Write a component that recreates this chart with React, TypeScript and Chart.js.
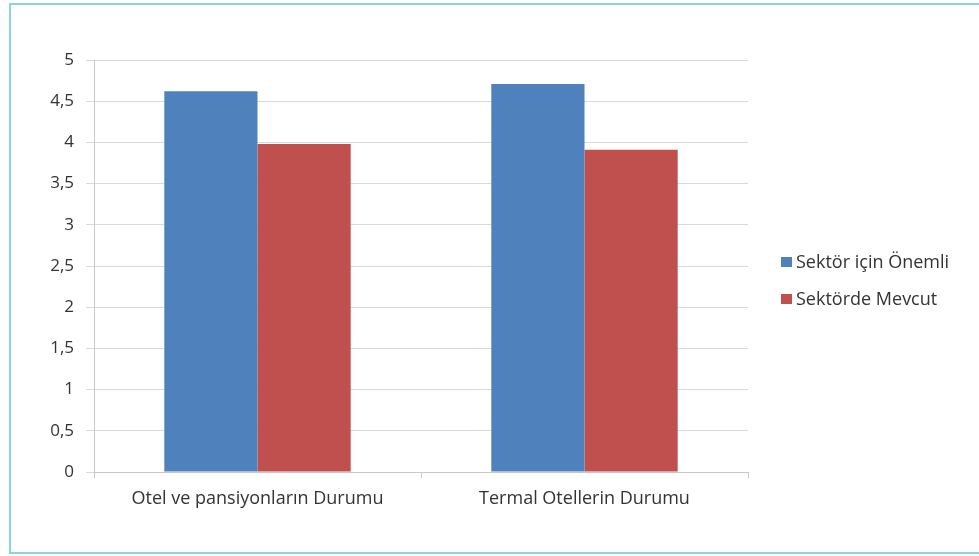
import React, { useEffect, useRef } from "react";
import { Chart, registerables } from "chart.js";

Chart.register(...registerables);

const categories = ["Otel ve pansiyonların Durumu", "Termal Otellerin Durumu"];
const seriesNames = ["Sektör için Önemli", "Sektörde Mevcut"];
const onemliValues = [4.62, 4.71];
const mevcutValues = [3.98, 3.91];
const yTickLabels = ["0", "0,5", "1", "1,5", "2", "2,5", "3", "3,5", "4", "4,5", "5"];
const colors = ["#4f81bd", "#c0504d"];

const FONT = "'Open Sans', sans-serif";
const TEXT = "#333333";

const legendPlugin = {
  id: "sideLegend",
  afterDraw(chart: any) {
    const ctx = chart.ctx;
    const x0 = 781;
    const ys = [262, 299];
    ctx.save();
    ctx.font = `18px ${FONT}`;
    ctx.textBaseline = "middle";
    ctx.textAlign = "left";
    chart.data.datasets.forEach((ds: any, i: number) => {
      const y = ys[i];
      ctx.fillStyle = ds.backgroundColor;
      ctx.fillRect(x0, y - 5, 11, 10);
      ctx.fillStyle = TEXT;
      ctx.fillText(ds.label, x0 + 15, y + 0.5);
    });
    ctx.restore();
  },
};

export default function App() {
  const ref = useRef<HTMLCanvasElement>(null);
  useEffect(() => {
    if (!ref.current) return;
    const chart = new Chart(ref.current, {
      type: "bar",
      data: {
        labels: categories,
        datasets: [
          { label: seriesNames[0], data: onemliValues, backgroundColor: colors[0] },
          { label: seriesNames[1], data: mevcutValues, backgroundColor: colors[1] },
        ],
      },
      plugins: [legendPlugin],
      options: {
        animation: false,
        responsive: false,
        maintainAspectRatio: false,
        layout: { padding: { left: 0, right: 231, top: 60, bottom: 44 } },
        plugins: { legend: { display: false }, tooltip: { enabled: false } },
        datasets: { bar: { barPercentage: 1, categoryPercentage: 0.57 } },
        scales: {
          x: {
            afterFit: (s: any) => { s.height = 40; },
            grid: { display: true, offset: true, drawOnChartArea: false, drawTicks: true, tickLength: 6, color: "#c8c8c8" },
            border: { color: "#c8c8c8" },
            ticks: { color: TEXT, font: { family: FONT, size: 18 }, padding: 10 },
          },
          y: {
            min: 0,
            max: 5,
            afterFit: (s: any) => { s.width = 94; },
            grid: { color: "#d9d9d9", tickLength: 8, drawTicks: true },
            border: { color: "#c8c8c8" },
            ticks: {
              stepSize: 0.5,
              color: TEXT,
              font: { family: FONT, size: 17 },
              padding: 12,
              callback: (v: any) => yTickLabels[Math.round(Number(v) * 2)] ?? String(v),
            },
          },
        },
      },
    });
    return () => chart.destroy();
  }, []);
  return (
    <div style={{ position: "fixed", left: 0, top: 0, width: 979, height: 556, background: "#fff", overflow: "hidden" }}>
      <div style={{ position: "absolute", left: 9, top: 3, width: 980, height: 551, border: "2px solid #88d4e3", boxSizing: "border-box" }} />
      <canvas ref={ref} width={979} height={556} style={{ position: "absolute", left: 0, top: 0 }} />
    </div>
  );
}
